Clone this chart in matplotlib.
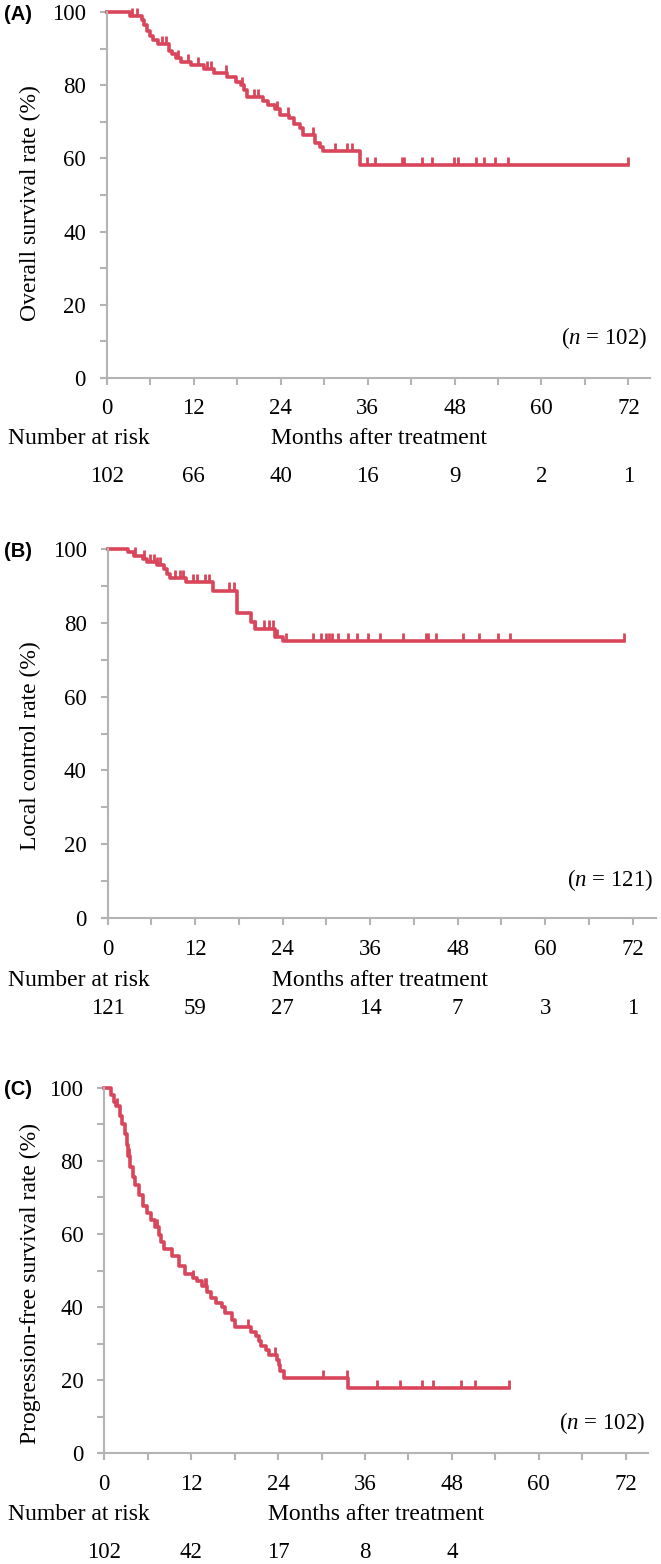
import numpy as np
import matplotlib
matplotlib.use('Agg')
import matplotlib.pyplot as plt
from matplotlib.ticker import MultipleLocator

plt.rcParams['font.family'] = ['Liberation Serif', 'DejaVu Serif']
plt.rcParams['mathtext.fontset'] = 'custom'
plt.rcParams['mathtext.rm'] = 'Liberation Serif'
plt.rcParams['mathtext.it'] = 'Liberation Serif:italic'

W, H = 661, 1564
RED = '#d9465b'
GREY = '#b4b4b4'

months = [0, 12, 24, 36, 48, 60, 72]

# (A) overall survival
os_t = [3.2, 4.8, 5.2, 5.6, 6.0, 6.4, 7.0, 8.6, 9.0, 9.6, 10.3, 11.6, 13.4, 14.8,
        16.6, 17.9, 18.5, 19.0, 19.4, 21.5, 22.3, 23.2, 23.9, 25.2, 25.8, 26.7,
        27.1, 28.8, 29.4, 29.8, 35.0]
os_s = [99.0, 98.0, 96.5, 95.0, 93.5, 92.5, 91.3, 89.5, 88.5, 87.5, 86.5, 85.6,
        84.5, 83.5, 82.3, 81.0, 80.0, 78.8, 76.8, 75.8, 74.6, 73.4, 72.0, 71.0,
        69.5, 68.2, 66.5, 64.3, 63.0, 62.1, 58.3]
os_end = 72.0
os_cens = [3.5, 4.2, 7.6, 8.2, 9.8, 11.2, 12.6, 13.8, 14.4, 16.4, 18.6, 20.3, 20.9,
           23.5, 25.0, 28.5, 31.5, 33.1, 33.8, 35.9, 37.0, 40.7, 41.0, 43.5, 44.9,
           47.9, 48.5, 50.9, 52.0, 53.6, 55.4, 72.0]
os_risk = ['102', '66', '40', '16', '9', '2', '1']

# (B) local control
lc_t = [2.8, 3.6, 4.8, 5.4, 6.8, 7.8, 8.2, 8.6, 10.8, 14.4, 17.8, 19.6, 20.2, 23.0, 24.0]
lc_s = [99.2, 98.3, 97.5, 96.6, 95.8, 94.7, 93.3, 92.2, 91.0, 88.8, 82.7, 80.4,
        78.5, 76.3, 75.0]
lc_end = 70.8
lc_cens = [3.7, 5.0, 5.8, 6.3, 6.8, 7.2, 9.2, 9.9, 10.4, 11.7, 12.3, 13.3, 13.9,
           16.6, 17.4, 20.2, 21.4, 22.1, 22.7, 23.3, 24.4, 28.2, 29.2, 30.0, 30.4,
           30.8, 31.6, 33.0, 34.2, 35.7, 37.4, 40.5, 43.6, 43.9, 45.0, 48.8, 50.9,
           53.6, 55.2, 70.8]
lc_risk = ['121', '59', '27', '14', '7', '3', '1']

# (C) progression-free survival
pfs_t = [0.9, 1.3, 1.6, 2.2, 2.5, 2.9, 3.1, 3.3, 3.6, 4.0, 4.3, 4.8, 5.3, 5.9, 6.4,
         7.0, 7.6, 7.9, 8.3, 9.4, 10.3, 11.2, 12.2, 12.8, 13.5, 14.2, 14.8, 15.5,
         16.3, 16.7, 17.6, 18.1, 20.2, 21.0, 21.3, 21.7, 22.3, 22.8, 23.9, 24.1,
         24.3, 24.8, 33.6]
pfs_s = [98.0, 96.1, 95.1, 92.2, 90.2, 87.3, 84.3, 81.4, 78.4, 75.5, 73.5, 70.6,
         67.6, 65.7, 63.7, 61.8, 59.8, 57.8, 56.0, 54.0, 51.1, 49.1, 48.0, 47.0,
         45.8, 44.2, 42.4, 41.2, 40.0, 38.3, 36.5, 34.5, 33.2, 32.0, 30.6, 29.4,
         28.2, 27.0, 25.5, 24.2, 22.4, 20.6, 17.8]
pfs_end = 55.9
pfs_cens = [1.8, 3.4, 7.3, 12.3, 13.9, 14.1, 19.9, 23.6, 30.2, 33.5, 37.7, 40.9,
            43.8, 45.4, 49.2, 51.2, 55.9]
pfs_risk = ['102', '42', '17', '8', '4']

fig = plt.figure(figsize=(W / 100, H / 100), dpi=100)


def fy(y):
    return 1 - y / H


def draw_panel(geom, t, s, end, cens, risk, ylabel, n_label, letter):
    x0, x72, xend, y100, y0, tick_y, nar_y, num_y, ylab_y, n_y = geom
    k = (x72 - x0) / 72.0
    m = (y0 - y100) / 100.0
    left = x0 - 0.7 * k
    bottom = y0 + 1.2 * m
    ax = fig.add_axes([left / W, fy(bottom), (xend - left) / W, (bottom - y100) / H])
    ax.set_xlim(-0.7, (xend - x0) / k)
    ax.set_ylim(-1.2, 100)

    tt = np.r_[0.0, t, end]
    ss = np.r_[100.0, s, s[-1]]
    ax.step(tt, ss, where='post', color=RED, lw=2.6, clip_on=False)
    idx = np.searchsorted(tt, cens, side='right') - 1
    cs = ss[idx]
    ax.vlines(cens, cs, cs + 2.2, color=RED, lw=2.0, clip_on=False)

    for side in ['top', 'right']:
        ax.spines[side].set_visible(False)
    ax.spines['left'].set_position(('data', 0))
    ax.spines['bottom'].set_position(('data', 0))
    for side in ['left', 'bottom']:
        ax.spines[side].set_color(GREY)
        ax.spines[side].set_linewidth(1.5)

    ax.set_xticks(months)
    ax.set_xticklabels([])
    ax.xaxis.set_minor_locator(MultipleLocator(6))
    ax.set_yticks(range(0, 101, 20))
    ax.yaxis.set_minor_locator(MultipleLocator(10))
    ax.tick_params(which='both', direction='out', length=5, width=1.5, color=GREY,
                   labelsize=16.5, pad=10)

    for mo in months:
        fig.text((x0 + k * mo) / W, fy(tick_y), str(mo), ha='center', va='center',
                 fontsize=16.5)
    fig.text(8.5 / W, fy(nar_y), 'Number at risk', ha='left', va='center', fontsize=17)
    fig.text((x0 + k * 22.6) / W, fy(nar_y), 'Months after treatment', ha='left',
             va='center', fontsize=17)
    for mo, r in zip(months, risk):
        fig.text((x0 + k * mo) / W, fy(num_y), r, ha='center', va='center',
                 fontsize=16.5)

    fig.text(30 / W, fy(ylab_y), ylabel, rotation=90, ha='center', va='center',
             fontsize=17)
    fig.text((xend - 3) / W, fy(n_y), n_label, ha='right', va='center', fontsize=16.5)
    fig.text(4 / W, fy(y100 + 2), letter, ha='left', va='center', fontsize=14.5,
             fontweight='bold', family=['Liberation Sans', 'DejaVu Sans'])
    return ax


draw_panel((106.8, 628.4, 650.4, 12.3, 377.7, 408, 438, 477, 203, 338),
           os_t, os_s, os_end, os_cens, os_risk,
           'Overall survival rate (%)', r'($\mathit{n}$ = 102)', '(A)')
draw_panel((107.6, 632.6, 656.0, 549.3, 917.7, 950, 980, 1008, 746, 880),
           lc_t, lc_s, lc_end, lc_cens, lc_risk,
           'Local control rate (%)', r'($\mathit{n}$ = 121)', '(B)')
draw_panel((104.2, 625.8, 648.0, 1087.7, 1453.3, 1485, 1515, 1552, 1283, 1423),
           pfs_t, pfs_s, pfs_end, pfs_cens, pfs_risk,
           'Progression-free survival rate (%)', r'($\mathit{n}$ = 102)', '(C)')

fig.savefig('out.png', dpi=100)
